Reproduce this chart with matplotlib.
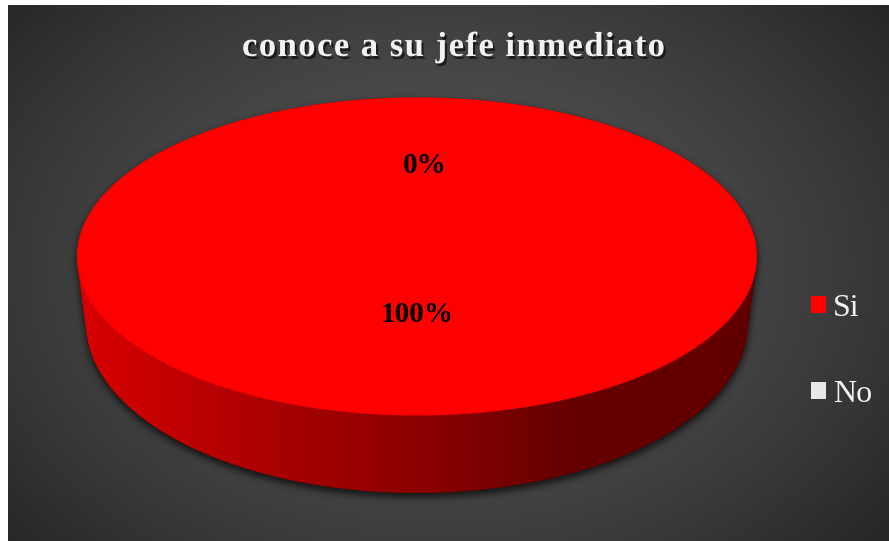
import numpy as np
import matplotlib
matplotlib.use('Agg')
import matplotlib.pyplot as plt
from matplotlib.path import Path
from matplotlib.patches import PathPatch
from matplotlib.colors import to_rgb
from matplotlib.font_manager import FontProperties
from matplotlib.transforms import IdentityTransform
import matplotlib.patheffects as pe

# ---------------- data ----------------
title = "conoce a su jefe inmediato"
categories = ["Si", "No"]
values = [100, 0]
colors = ["#fe0000", "#e8e8e8"]

# ---------------- figure ----------------
W, H = 889, 541
fig = plt.figure(figsize=(W / 100, H / 100), dpi=100)
fig.patch.set_facecolor('white')

# background with radial gradient
bw, bh = W - 8, H - 5
bg = fig.add_axes([8 / W, 0, bw / W, bh / H], zorder=0)
yy, xx = np.mgrid[0:bh, 0:bw]
gcx, gcy = 440 - 8, 270 - 5
r = np.sqrt(((xx - gcx) / 580.0) ** 2 + ((yy - gcy) / 420.0) ** 2)
v = (38 + 48 * (1 - np.clip(r, 0, 1) ** 1.5)) / 255.0
bg.imshow(np.dstack([v, v, v]), aspect='auto', extent=(0, 1, 0, 1),
          origin='upper', interpolation='bilinear')
bg.axis('off')

# main axes in pie units
ax = fig.add_axes([0, 0, 1, 1], zorder=1)
ax.patch.set_alpha(0)
PCX, PCY = 417.0, 256.5
A, B = 340.0, 159.0
xlim = (-PCX / A, (W - PCX) / A)
ylim = ((PCY - H) / B, PCY / B)
a2, yc2, b2 = 331.0 / A, (PCY - 323.0) / B, 170.0 / B

wedges, _ = ax.pie(values, colors=colors, startangle=90, counterclock=False,
                   radius=1, center=(0, 0),
                   wedgeprops=dict(linewidth=0, zorder=5))
ax.set_aspect('auto')


def convex_hull(p):
    p = sorted(set(map(tuple, np.round(p, 9))))
    def cross(o, a, b):
        return (a[0] - o[0]) * (b[1] - o[1]) - (a[1] - o[1]) * (b[0] - o[0])
    lower = []
    for pt in p:
        while len(lower) >= 2 and cross(lower[-2], lower[-1], pt) <= 0:
            lower.pop()
        lower.append(pt)
    upper = []
    for pt in reversed(p):
        while len(upper) >= 2 and cross(upper[-2], upper[-1], pt) <= 0:
            upper.pop()
        upper.append(pt)
    return np.array(lower[:-1] + upper[:-1])


def side_hull(t1, t2, n=361):
    t = np.radians(np.linspace(t1, t2, n))
    top = np.c_[np.cos(t), np.sin(t)]
    bot = np.c_[a2 * np.cos(t), yc2 + b2 * np.sin(t)]
    h = convex_hull(np.vstack([top, bot]))
    return Path(np.vstack([h, h[:1]]), closed=True)


# shadow of the whole cylinder
sil = side_hull(0, 360, 721)
px = np.arange(W) + 0.5
py = np.arange(H) + 0.5
gx, gy = np.meshgrid((px - PCX) / A, (PCY - py) / B)
shift = 4.0
mask = sil.contains_points(np.c_[gx.ravel(), gy.ravel() + shift / B]).reshape(H, W).astype(float)


def gblur(a, s):
    rad = int(3 * s)
    k = np.exp(-0.5 * (np.arange(-rad, rad + 1) / s) ** 2)
    k /= k.sum()
    a = np.apply_along_axis(lambda rr: np.convolve(rr, k, mode='same'), 1, a)
    a = np.apply_along_axis(lambda cc: np.convolve(cc, k, mode='same'), 0, a)
    return a


sh = gblur(mask, 4.0)
shimg = np.zeros((H, W, 4))
shimg[..., 3] = np.clip(sh * 0.75, 0, 1)
ax.imshow(shimg, extent=(xlim[0], xlim[1], ylim[0], ylim[1]), origin='upper',
          aspect='auto', zorder=2, interpolation='bilinear')

# cylinder sides with horizontal shading
shade = np.interp(px, [77, 250, 420, 580, 757], [218, 175, 140, 100, 98]) / 255.0
for w, col in zip(wedges, colors):
    if abs(w.theta2 - w.theta1) < 1e-9:
        continue
    path = side_hull(w.theta1, w.theta2)
    patch = PathPatch(path, fc='none', ec='none')
    ax.add_patch(patch)
    rgb = np.array(to_rgb(col))
    grad = np.ones((2, W, 3)) * rgb[None, None, :] * shade[None, :, None]
    im = ax.imshow(grad, extent=(xlim[0], xlim[1], ylim[0], ylim[1]),
                   aspect='auto', zorder=3, interpolation='bilinear')
    im.set_clip_path(patch)

# percentage labels
label_dist = [0.412, 0.525]
label_dx = [0.0, 8 / A]
for w, val, d, dx in zip(wedges, values, label_dist, label_dx):
    mid = np.radians((w.theta1 + w.theta2) / 2)
    ax.text(d * np.cos(mid) + dx, d * np.sin(mid), f"{val:.0f}%", ha='center',
            va='baseline', fontsize=21, fontweight='bold',
            family='Liberation Serif', color='black', zorder=10)

ax.set_xlim(xlim)
ax.set_ylim(ylim)
ax.axis('off')

# legend
leg = ax.legend(wedges, categories, loc='upper left',
                bbox_to_anchor=(811 / W, 1 - 294 / H),
                bbox_transform=fig.transFigure, frameon=False,
                prop=dict(family='Liberation Serif', size=23),
                labelcolor='#f2f2f2', handlelength=15 / 32, handleheight=15 / 32,
                handletextpad=0.22, labelspacing=1.78, borderpad=0, borderaxespad=0)
leg.set_zorder(20)

# letter-spaced title
renderer = fig.canvas.get_renderer()
fp = FontProperties(family='Liberation Serif', weight='bold', size=25)


def tw(s):
    return renderer.get_text_width_height_descent(s, fp, ismath=False)[0]


ws = tw('x')
pos = [tw(title[:i] + 'x') - ws for i in range(len(title))]
natural = tw(title)
target = 423.0
gap = (target - natural) / (len(title) - 1)
x0 = 453.5 - target / 2
for i, ch in enumerate(title):
    if ch == ' ':
        continue
    fig.text(x0 + pos[i] + i * gap, H - 56, ch, transform=IdentityTransform(),
             fontproperties=fp, color='#f2f2f2', va='baseline', ha='left',
             zorder=30,
             path_effects=[pe.withSimplePatchShadow(offset=(1.5, -2),
                                                    shadow_rgbFace='black',
                                                    alpha=0.6)])

fig.savefig('out.png', dpi=100)
